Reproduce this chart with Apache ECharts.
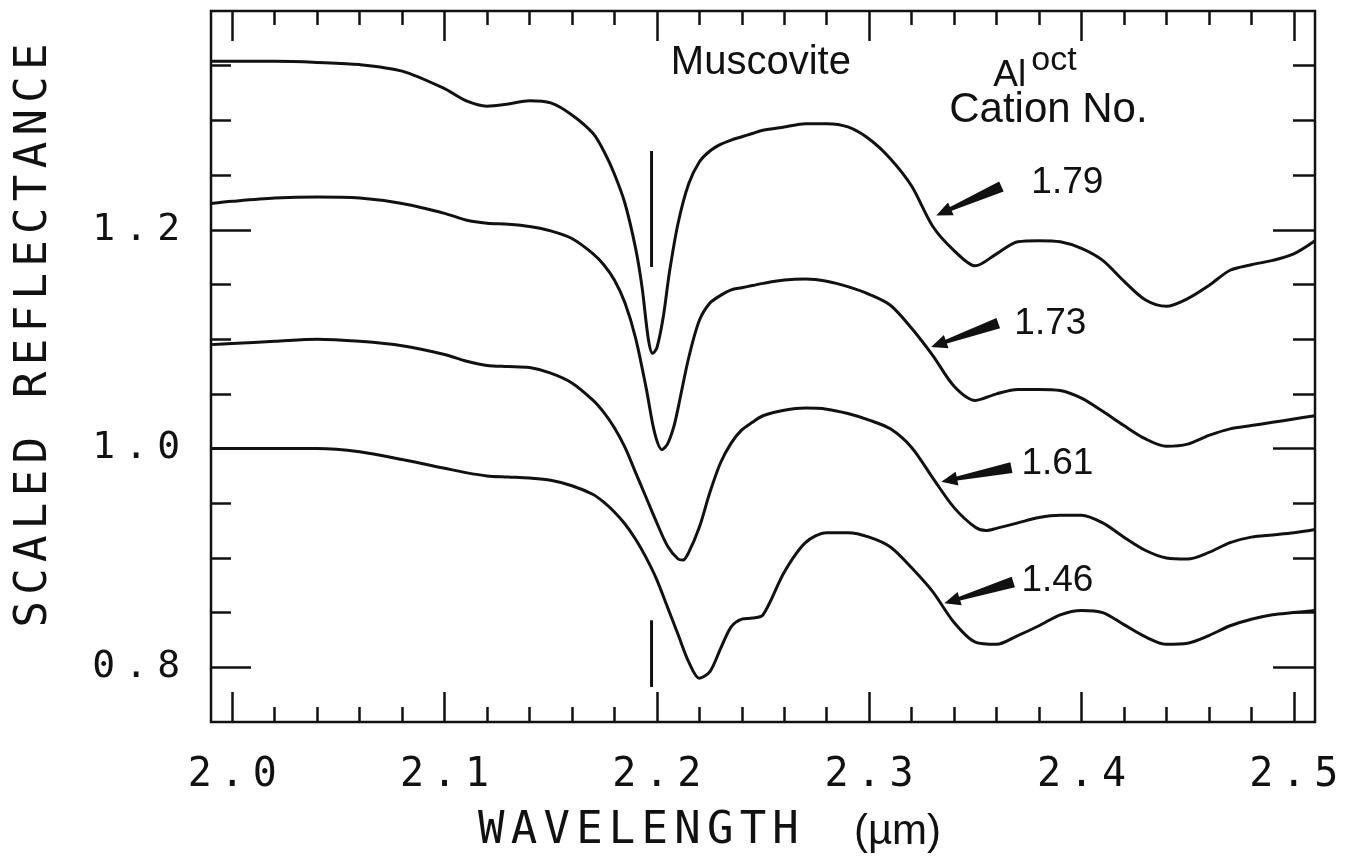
<!DOCTYPE html>
<html>
<head>
<meta charset="utf-8">
<script src="https://cdn.jsdelivr.net/npm/echarts@6/dist/echarts.min.js"></script>
<style>
  html, body { margin: 0; background: #fff; }
  #chart { width: 1350px; height: 859px; }
</style>
</head>
<body>
<div id="chart"></div>
<script>
// spectra, [wavelength um, scaled reflectance]
const al179 = [
  [1.99, 1.354], [2.00, 1.354], [2.02, 1.354], [2.04, 1.353], [2.06, 1.351], [2.08, 1.345],
  [2.10, 1.329], [2.11, 1.318], [2.12, 1.313], [2.13, 1.315], [2.14, 1.318], [2.15, 1.316],
  [2.16, 1.305], [2.17, 1.288], [2.175, 1.272], [2.18, 1.251], [2.185, 1.224], [2.19, 1.183],
  [2.193, 1.148], [2.196, 1.100], [2.198, 1.087], [2.2, 1.092], [2.203, 1.120], [2.206, 1.162],
  [2.21, 1.206], [2.215, 1.242],
  [2.22, 1.262], [2.225, 1.272], [2.23, 1.278], [2.235, 1.282], [2.24, 1.285], [2.245, 1.288],
  [2.25, 1.291], [2.26, 1.294], [2.27, 1.297], [2.28, 1.297], [2.29, 1.294], [2.30, 1.283],
  [2.31, 1.265], [2.32, 1.240], [2.33, 1.203], [2.34, 1.181], [2.35, 1.167], [2.36, 1.178],
  [2.37, 1.189], [2.38, 1.190], [2.39, 1.189], [2.40, 1.183], [2.41, 1.172], [2.42, 1.153],
  [2.43, 1.136], [2.44, 1.130], [2.45, 1.137], [2.46, 1.149], [2.47, 1.163], [2.48, 1.168],
  [2.49, 1.172], [2.50, 1.178], [2.51, 1.190]
];
const al173 = [
  [1.99, 1.224], [2.00, 1.226], [2.02, 1.229], [2.04, 1.230], [2.06, 1.229], [2.08, 1.224],
  [2.10, 1.215], [2.11, 1.209], [2.12, 1.206], [2.13, 1.205], [2.14, 1.203], [2.15, 1.199],
  [2.16, 1.192], [2.17, 1.178], [2.175, 1.168], [2.18, 1.154], [2.185, 1.133], [2.19, 1.101],
  [2.195, 1.055], [2.199, 1.014], [2.2024, 0.999], [2.205, 1.004], [2.208, 1.020], [2.21, 1.037],
  [2.215, 1.083],
  [2.22, 1.117], [2.225, 1.133], [2.23, 1.140], [2.235, 1.145], [2.24, 1.147], [2.245, 1.149],
  [2.25, 1.151], [2.26, 1.154], [2.27, 1.155], [2.28, 1.153], [2.29, 1.148], [2.30, 1.141],
  [2.31, 1.131], [2.32, 1.110], [2.33, 1.085], [2.34, 1.057], [2.35, 1.044], [2.36, 1.050],
  [2.37, 1.054], [2.38, 1.054], [2.39, 1.053], [2.40, 1.046], [2.41, 1.034], [2.42, 1.021],
  [2.43, 1.009], [2.44, 1.002], [2.45, 1.004], [2.46, 1.012], [2.47, 1.018], [2.48, 1.021],
  [2.49, 1.024], [2.50, 1.027], [2.51, 1.030]
];
const al161 = [
  [1.99, 1.095], [2.00, 1.096], [2.02, 1.098], [2.04, 1.100], [2.06, 1.098], [2.08, 1.094],
  [2.10, 1.086], [2.11, 1.080], [2.12, 1.076], [2.13, 1.075], [2.14, 1.074], [2.15, 1.069],
  [2.16, 1.060], [2.17, 1.044], [2.175, 1.033], [2.18, 1.019], [2.185, 1.001], [2.19, 0.978],
  [2.195, 0.955], [2.20, 0.932], [2.205, 0.911], [2.21, 0.899], [2.2123, 0.898], [2.215, 0.905],
  [2.22, 0.928], [2.225, 0.960], [2.23, 0.987], [2.235, 1.005], [2.24, 1.017], [2.245, 1.024],
  [2.25, 1.030], [2.26, 1.035], [2.27, 1.037], [2.28, 1.036], [2.29, 1.032], [2.30, 1.026],
  [2.31, 1.018], [2.32, 1.001], [2.33, 0.973], [2.34, 0.946], [2.35, 0.928], [2.355, 0.925],
  [2.36, 0.927], [2.37, 0.932], [2.38, 0.937], [2.39, 0.939], [2.40, 0.939], [2.41, 0.932],
  [2.42, 0.919], [2.43, 0.907], [2.44, 0.900], [2.45, 0.899], [2.46, 0.905], [2.47, 0.914],
  [2.48, 0.919], [2.49, 0.921], [2.50, 0.923], [2.51, 0.926]
];
const al146 = [
  [1.99, 1.000], [2.00, 1.000], [2.02, 1.000], [2.04, 1.000], [2.06, 0.997], [2.08, 0.990],
  [2.10, 0.982], [2.11, 0.978], [2.12, 0.975], [2.13, 0.974], [2.14, 0.973], [2.15, 0.971],
  [2.16, 0.966], [2.17, 0.958], [2.175, 0.951], [2.18, 0.942], [2.185, 0.931], [2.19, 0.917],
  [2.195, 0.900], [2.20, 0.880], [2.205, 0.855], [2.21, 0.830], [2.215, 0.805], [2.22, 0.790],
  [2.225, 0.796], [2.23, 0.817], [2.235, 0.837], [2.24, 0.844], [2.245, 0.845], [2.25, 0.848],
  [2.26, 0.887], [2.27, 0.914], [2.28, 0.923], [2.29, 0.923], [2.30, 0.919], [2.31, 0.910],
  [2.32, 0.891], [2.33, 0.869], [2.34, 0.841], [2.35, 0.823], [2.36, 0.821], [2.37, 0.829],
  [2.38, 0.838], [2.39, 0.848], [2.40, 0.852], [2.41, 0.850], [2.42, 0.839], [2.43, 0.828],
  [2.44, 0.821], [2.45, 0.822], [2.46, 0.829], [2.47, 0.838], [2.48, 0.844], [2.49, 0.848],
  [2.50, 0.850], [2.51, 0.852]
];

const cationNos = ['1.79', '1.73', '1.61', '1.46'];

// tick values
const xMajor = [2.0, 2.1, 2.2, 2.3, 2.4, 2.5];
const xMinor = [2.02, 2.04, 2.06, 2.08, 2.12, 2.14, 2.16, 2.18, 2.22, 2.24, 2.26, 2.28,
  2.32, 2.34, 2.36, 2.38, 2.42, 2.44, 2.46, 2.48];
const yMajor = [0.8, 1.0, 1.2];
const yMinor = [0.85, 0.9, 0.95, 1.05, 1.1, 1.15, 1.25, 1.3, 1.35];

// annotation anchors (data coords)
const labelAt = [[2.3764, 1.2432], [2.3684, 1.1138], [2.3717, 0.9861], [2.3717, 0.8795]];
const arrowTail = [[2.3623, 1.2396], [2.3608, 1.1147], [2.3670, 0.9825], [2.3679, 0.8779]];
const arrowTip = [[2.3316, 1.2131], [2.3292, 1.0928], [2.3340, 0.9697], [2.3354, 0.8585]];
const markerX = 2.1975;
const markerSpans = [[1.272, 1.166], [0.843, 0.782]];

const INK = '#111';
const MONO = '"DejaVu Sans Mono", monospace';
const SANS = '"Liberation Sans", Arial, sans-serif';

// the plotter font is very spaced out, so every glyph gets its own box
function spaced(text, style) {
  return text.split('').map(ch => ch === ' ' ? '{' + style + '| }' : '{' + style + '|' + ch + '}').join('');
}
const richMono = (size, w) => ({ fontFamily: MONO, fontSize: size, width: w, align: 'center', color: INK });

const X_MIN = 1.99, X_MAX = 2.51, Y_MIN = 0.75, Y_MAX = 1.4;

function xAxisDef(pos, values, len, labels) {
  return {
    type: 'value', position: pos, min: X_MIN, max: X_MAX,
    axisLine: { show: false, onZero: false },
    splitLine: { show: false },
    axisTick: { show: true, inside: true, length: len, customValues: values, lineStyle: { color: INK, width: 2.5 } },
    axisLabel: labels ? {
      show: true, customValues: values, margin: 34,
      formatter: v => spaced(v.toFixed(1), 'n'),
      rich: { n: richMono(40, 32.5) }
    } : { show: false }
  };
}
function yAxisDef(pos, values, len, labels) {
  return {
    type: 'value', position: pos, min: Y_MIN, max: Y_MAX,
    axisLine: { show: false, onZero: false },
    splitLine: { show: false },
    axisTick: { show: true, inside: true, length: len, customValues: values, lineStyle: { color: INK, width: 2.5 } },
    axisLabel: labels ? {
      show: true, customValues: values, margin: 26,
      formatter: v => spaced(v.toFixed(1), 'n'),
      rich: { n: richMono(38, 32.5) }
    } : { show: false }
  };
}

const xAxes = [
  xAxisDef('bottom', xMajor, 30, true),
  xAxisDef('bottom', xMinor, 15, false),
  xAxisDef('top', xMajor, 30, false),
  xAxisDef('top', xMinor, 14, false)
];
Object.assign(xAxes[0], {
  name: spaced('WAVELENGTH', 'w') + '{gap| }{u|(µm)}',
  nameLocation: 'middle', nameGap: 88,
  nameTextStyle: {
    padding: [0, 110, 0, 0],
    rich: {
      w: richMono(44, 32.7),
      gap: { width: 52 },
      u: { fontFamily: SANS, fontSize: 42, color: INK }
    }
  }
});

const yAxes = [
  yAxisDef('left', yMajor, 40, true),
  yAxisDef('left', yMinor, 20, false),
  yAxisDef('right', yMajor, 42, false),
  yAxisDef('right', yMinor, 22, false)
];
Object.assign(yAxes[0], {
  name: spaced('SCALED REFLECTANCE', 'w'),
  nameLocation: 'middle', nameGap: 154, nameRotate: 90,
  nameTextStyle: { padding: [0, 0, 0, 62], rich: { w: richMono(44, 32.8) } }
});

const spectra = [al179, al173, al161, al146];

const chart = echarts.init(document.getElementById('chart'));
chart.setOption({
  backgroundColor: '#fff',
  animation: false,
  grid: { left: 211, right: 35, top: 11, bottom: 134, show: true, borderColor: INK, borderWidth: 2.5, backgroundColor: 'transparent' },
  xAxis: xAxes,
  yAxis: yAxes,
  series: spectra.map((d, i) => ({
    name: cationNos[i],
    type: 'line',
    data: d,
    xAxisIndex: 0,
    yAxisIndex: 0,
    showSymbol: false,
    smooth: 0.3,
    lineStyle: { color: INK, width: 3 }
  }))
});

// annotation layer placed through the axes
const px = p => chart.convertToPixel({ xAxisIndex: 0, yAxisIndex: 0 }, p);

function wedge(tail, tip) {
  const a = px(tail), b = px(tip);
  const dx = b[0] - a[0], dy = b[1] - a[1];
  const len = Math.hypot(dx, dy);
  const ux = dx / len, uy = dy / len, nx = -uy, ny = ux;
  const neck = [b[0] - ux * 16, b[1] - uy * 16];
  const off = (p, k) => [p[0] + nx * k, p[1] + ny * k];
  return [off(a, 5.5), off(neck, 2), off(neck, 7), b, off(neck, -7), off(neck, -2), off(a, -5.5)];
}

function textAt(p, text, size) {
  const q = px(p);
  return {
    type: 'text', x: q[0], y: q[1],
    style: { text, fontFamily: SANS, fontSize: size, fill: INK, align: 'left', verticalAlign: 'middle' }
  };
}

const graphics = [];
cationNos.forEach((t, i) => {
  graphics.push(textAt(labelAt[i], t, 37));
  graphics.push({ type: 'polygon', shape: { points: wedge(arrowTail[i], arrowTip[i]) }, style: { fill: INK } });
});
markerSpans.forEach(s => {
  const a = px([markerX, s[0]]), b = px([markerX, s[1]]);
  graphics.push({ type: 'line', shape: { x1: a[0], y1: a[1], x2: b[0], y2: b[1] }, style: { stroke: INK, lineWidth: 3 } });
});
graphics.push(textAt([2.2066, 1.3526], 'Muscovite', 40));
graphics.push(textAt([2.3585, 1.3407], 'Al', 37));
graphics.push(textAt([2.3764, 1.3544], 'oct', 34));
graphics.push(textAt([2.3377, 1.3088], 'Cation No.', 42));

chart.setOption({ graphic: graphics });
</script>
</body>
</html>
